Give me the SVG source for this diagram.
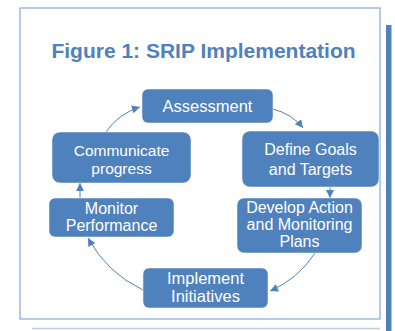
<svg xmlns="http://www.w3.org/2000/svg" width="395" height="331" viewBox="0 0 395 331">
<style>
.box{fill:#4f81bd;stroke:#ffffff;stroke-width:0.5}
.lbl{font-family:"Liberation Sans",Arial,sans-serif;fill:#ffffff;text-anchor:middle}
.conn{fill:none;stroke:#4f81bd;stroke-width:1}
</style>
<defs>
<marker id="ah" viewBox="0 0 10 10" refX="10" refY="5" markerWidth="9" markerHeight="8" markerUnits="userSpaceOnUse" orient="auto">
<path d="M0,0 L10,5 L0,10 Z" fill="#4f81bd"/>
</marker>
</defs>
<rect x="0" y="0" width="395" height="331" fill="#ffffff"/>
<rect x="20" y="8" width="360" height="311" fill="none" stroke="#8eaedb" stroke-width="1.3"/>
<rect x="386" y="25" width="5.5" height="306" fill="#4f81bd"/>
<line x1="32" y1="328.5" x2="380" y2="328.5" stroke="#b9cde6" stroke-width="1.5"/>
<text x="203.5" y="58" font-family="'Liberation Sans',Arial,sans-serif" font-size="21" font-weight="bold" fill="#4f81bd" text-anchor="middle">Figure 1: SRIP Implementation</text>
<g id="connectors">
<path class="conn" d="M273,109 Q292,114 303,128" marker-end="url(#ah)"/>
<path class="conn" d="M330,187 L330,198" marker-end="url(#ah)"/>
<path class="conn" d="M315,253 Q298,279 270,291" marker-end="url(#ah)"/>
<path class="conn" d="M143,290 Q107,273 88,238" marker-end="url(#ah)"/>
<path class="conn" d="M80,198 L80,183" marker-end="url(#ah)"/>
<path class="conn" d="M106,132 Q118,114 140,107" marker-end="url(#ah)"/>
</g>
<g id="assessment">
<rect class="box" x="142" y="89" width="131" height="34" rx="6"/>
<text class="lbl" x="207.5" y="112" font-size="16.5">Assessment</text>
</g>
<g id="define-goals">
<rect class="box" x="242" y="131" width="137" height="56" rx="8"/>
<text class="lbl" x="310.5" y="155" font-size="16">Define Goals</text>
<text class="lbl" x="310.5" y="175" font-size="16">and Targets</text>
</g>
<g id="develop-action">
<rect class="box" x="237" y="198" width="125" height="55" rx="7"/>
<text class="lbl" x="299.5" y="213" font-size="16">Develop Action</text>
<text class="lbl" x="299.5" y="230" font-size="16">and Monitoring</text>
<text class="lbl" x="299.5" y="247" font-size="16">Plans</text>
</g>
<g id="implement">
<rect class="box" x="143" y="268" width="125" height="40" rx="6"/>
<text class="lbl" x="205.5" y="284" font-size="16.5">Implement</text>
<text class="lbl" x="205.5" y="302" font-size="16.5">Initiatives</text>
</g>
<g id="monitor">
<rect class="box" x="49" y="198" width="125" height="39" rx="6"/>
<text class="lbl" x="111.5" y="214" font-size="16">Monitor</text>
<text class="lbl" x="111.5" y="231" font-size="16">Performance</text>
</g>
<g id="communicate">
<rect class="box" x="52" y="132" width="139" height="51" rx="8"/>
<text class="lbl" x="121.5" y="156" font-size="15.5">Communicate</text>
<text class="lbl" x="121.5" y="174" font-size="15.5">progress</text>
</g>
</svg>
